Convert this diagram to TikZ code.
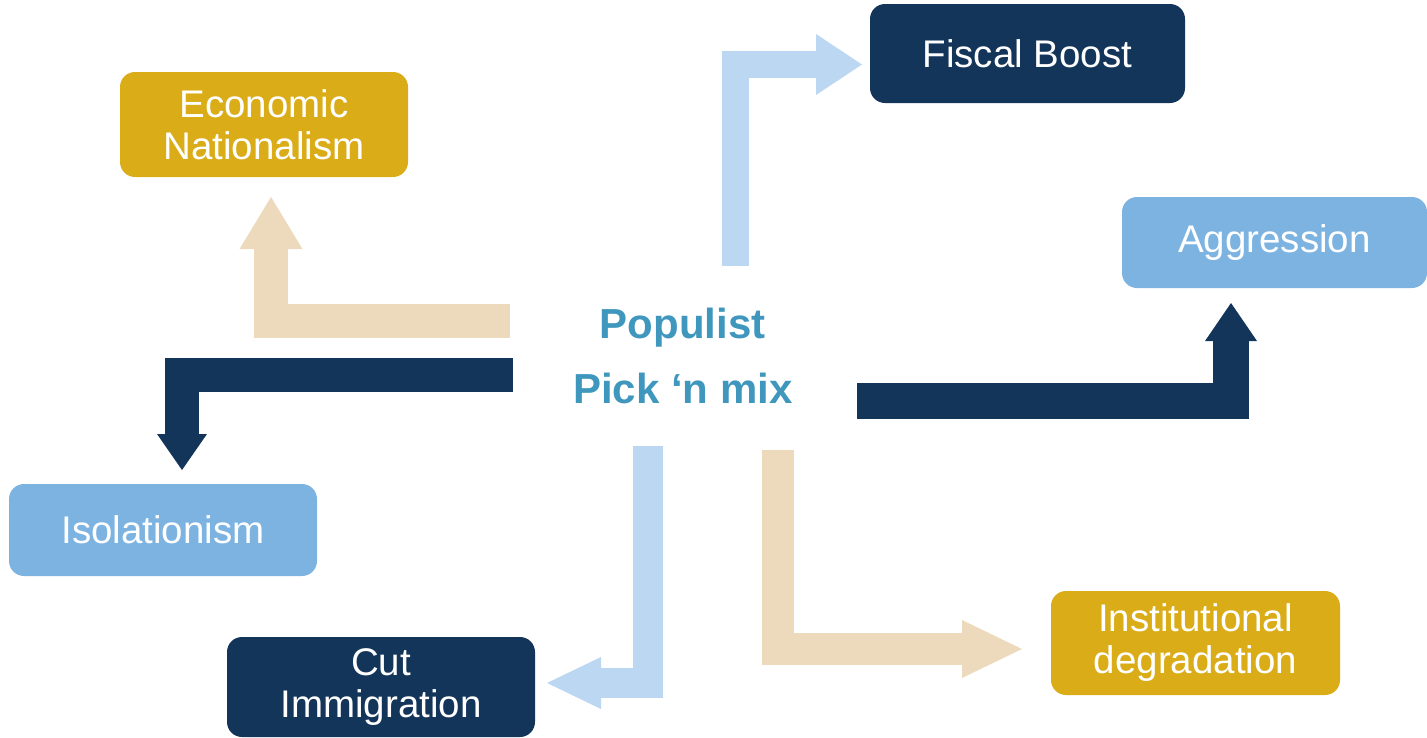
\documentclass[tikz,border=0pt]{standalone}
\usepackage{fontspec}
\setmainfont{Liberation Sans}
\usetikzlibrary{arrows.meta}
\definecolor{navy}{HTML}{14355A}
\definecolor{skyb}{HTML}{7DB3E1}
\definecolor{palebl}{HTML}{BCD7F2}
\definecolor{tanc}{HTML}{EDDABC}
\definecolor{goldc}{HTML}{D9AC18}
\definecolor{tealt}{HTML}{3F97BD}
\begin{document}
\begin{tikzpicture}[x=1pt,y=-1pt,
  box/.style={rectangle, rounded corners=15pt, inner sep=0pt, text=white, align=center,
    font=\fontsize{38.5}{42}\selectfont},
  center text/.style={text=tealt, inner sep=0pt, anchor=base, font=\fontsize{42}{46}\selectfont\bfseries},
  bigarrow/.style={line join=miter, line cap=butt}]
\useasboundingbox (0,0) rectangle (1427,737);

% boxes
\node[box, fill=goldc, minimum width=288pt, minimum height=105pt] (econ) at (264,124.5) {Economic\\Nationalism};
\node[box, fill=navy, minimum width=315pt, minimum height=99pt] (fiscal) at (1027.5,53.5) {Fiscal Boost};
\node[box, fill=skyb, minimum width=305pt, minimum height=91pt] (aggr) at (1274.5,242.5) {Aggression};
\node[box, fill=skyb, minimum width=308pt, minimum height=92pt] (isol) at (163,530) {Isolationism};
\node[box, fill=navy, minimum width=308pt, minimum height=100pt] (cut) at (381,687) {Cut\\Immigration};
\node[box, fill=goldc, minimum width=289pt, minimum height=104pt] (inst) at (1195.5,643) {Institutional\\degradation};

% centre text
\node[center text] (pop1) at (682.5,338) {Populist};
\node[center text] (pop2) at (683,403) {Pick ‘n mix};

% arrow end points
\coordinate (fS) at (735.5,266);   \coordinate (fT) at (862,64.5);
\coordinate (eS) at (510,321);     \coordinate (eT) at (271,197);
\coordinate (iS) at (513,375);     \coordinate (iT) at (182,470);
\coordinate (cS) at (648,446);     \coordinate (cT) at (547,683);
\coordinate (dS) at (778,450);     \coordinate (dT) at (1022,649);
\coordinate (aS) at (857,401);     \coordinate (aT) at (1231,303);

% block arrows
\draw[bigarrow, draw=palebl, line width=27pt, -{Triangle[length=46pt,width=61pt,line width=0pt]}] (fS) |- (fT);
\draw[bigarrow, draw=tanc, line width=34pt, -{Triangle[length=52pt,width=63pt,line width=0pt]}] (eS) -| (eT);
\draw[bigarrow, draw=navy, line width=34pt, -{Triangle[length=36pt,width=50pt,line width=0pt]}] (iS) -| (iT);
\draw[bigarrow, draw=palebl, line width=30pt, -{Triangle[length=54pt,width=52pt,line width=0pt]}] (cS) |- (cT);
\draw[bigarrow, draw=tanc, line width=32pt, -{Triangle[length=60pt,width=58pt,line width=0pt]}] (dS) |- (dT);
\draw[bigarrow, draw=navy, line width=36pt, -{Triangle[length=38pt,width=52pt,line width=0pt]}] (aS) -| (aT);
\end{tikzpicture}
\end{document}
